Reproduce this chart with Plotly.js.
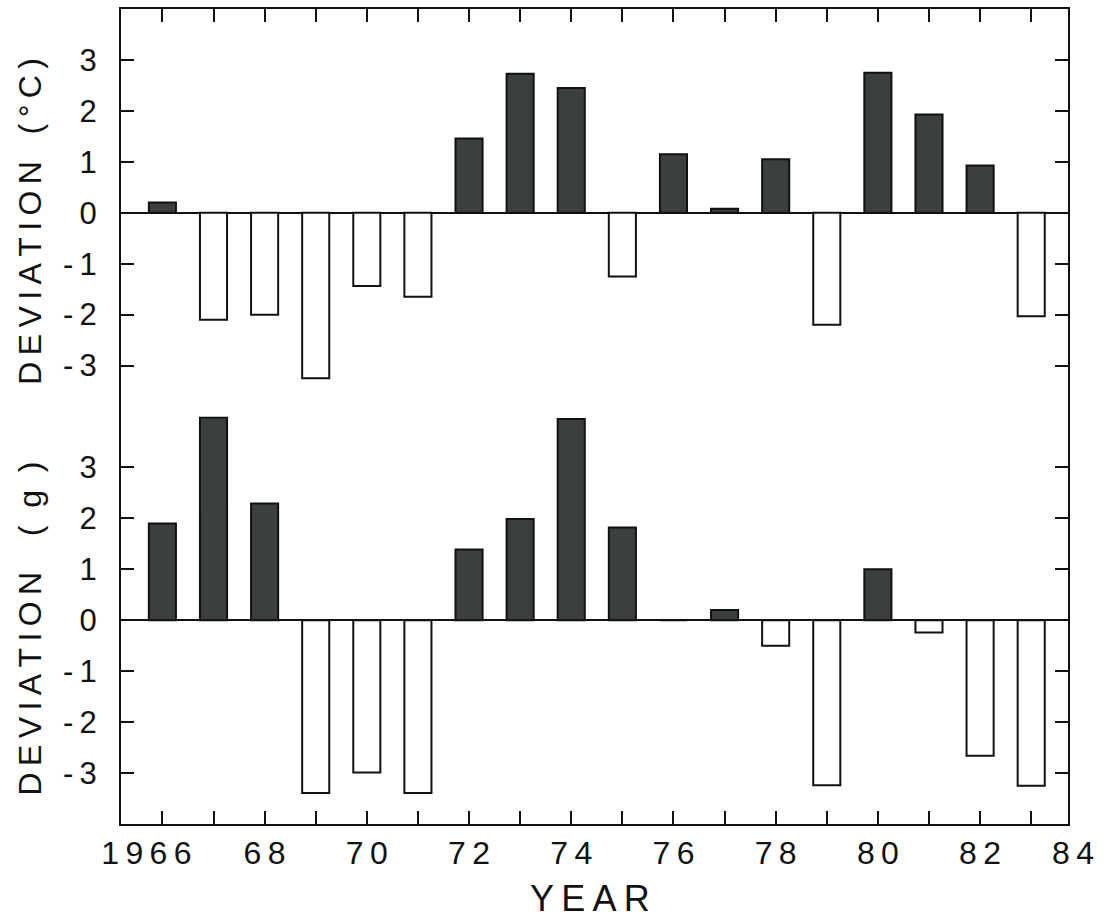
<!DOCTYPE html>
<html>
<head>
<meta charset="utf-8">
<script src="https://cdn.plot.ly/plotly-3.0.1.min.js"></script>
<style>
  html, body { margin: 0; padding: 0; background: #fff; }
  #chart { width: 1112px; height: 921px; }
</style>
</head>
<body>
<div id="chart"></div>
<script>
// ---- data ----
const years = [1966, 1967, 1968, 1969, 1970, 1971, 1972, 1973, 1974, 1975,
               1976, 1977, 1978, 1979, 1980, 1981, 1982, 1983];
const tempDeviation = [0.2, -2.1, -2.0, -3.25, -1.44, -1.65, 1.46, 2.73, 2.45, -1.25,
                       1.15, 0.08, 1.05, -2.2, 2.75, 1.93, 0.93, -2.03];
const massDeviation = [1.9, 3.98, 2.29, -3.39, -2.99, -3.39, 1.39, 1.99, 3.95, 1.82,
                       0, 0.2, -0.5, -3.24, 1.0, -0.24, -2.66, -3.25];
const xTickText = ['1\u20099\u20096\u20096\u2003', '', '6\u20098', '', '7\u20090', '', '7\u20092', '', '7\u20094', '',
                   '7\u20096', '', '7\u20098', '', '8\u20090', '', '8\u20092', ''];
const lastYearLabel = '8\u20094';
const topTickVals = [3, 2, 1, 0, -1, -2, -3];
const topTickText = ['3', '2', '1', '0', '-\u20091', '-\u20092', '-\u20093'];
const botTickVals = [4, 3, 2, 1, 0, -1, -2, -3];
const botTickText = ['', '3', '2', '1', '0', '-\u20091', '-\u20092', '-\u20093'];
const topTitle = 'D\u2009E\u2009V\u2009I\u2009A\u2009T\u2009I\u2009O\u2009N\u00a0\u00a0\u00a0(\u2009\u00b0\u2009C\u2009)';
const botTitle = 'D\u2009E\u2009V\u2009I\u2009A\u2009T\u2009I\u2009O\u2009N\u00a0\u00a0\u00a0\u00a0(\u00a0\u00a0g\u00a0\u00a0)';
const xTitle = 'Y\u2009E\u2009A\u2009R';

// ---- styling ----
const DARK = '#3b403f';
const FONT = 'Liberation Sans, Arial, sans-serif';
const fillFor = v => v >= 0 ? DARK : '#ffffff';

const topTrace = {
  type: 'bar', x: years, y: tempDeviation, xaxis: 'x2', yaxis: 'y',
  width: 0.53,
  marker: { color: tempDeviation.map(fillFor), line: { color: '#111', width: 2 } },
  hoverinfo: 'x+y', showlegend: false
};
const botTrace = {
  type: 'bar', x: years, y: massDeviation, xaxis: 'x', yaxis: 'y2',
  width: 0.53,
  marker: { color: massDeviation.map(fillFor), line: { color: '#111', width: 2 } },
  hoverinfo: 'x+y', showlegend: false
};

const xRange = [1965.19, 1983.72];
const commonY = {
  range: [-4, 4], showgrid: false, zeroline: true, zerolinecolor: '#111', zerolinewidth: 2,
  showline: true, linecolor: '#111', linewidth: 2, mirror: 'ticks',
  ticks: 'inside', ticklen: 13, tickwidth: 2, tickcolor: '#111',
  tickfont: { family: FONT, size: 31, color: '#111' }, ticklabelstandoff: 16,
  fixedrange: true
};

const layout = {
  width: 1112, height: 921,
  margin: { l: 121, r: 44, t: 9, b: 97 },
  paper_bgcolor: '#fff', plot_bgcolor: '#fff',
  bargap: 0,
  font: { family: FONT, color: '#111' },
  xaxis: {
    range: xRange, anchor: 'y2', side: 'bottom', domain: [0, 1],
    tickmode: 'array', tickvals: years, ticktext: xTickText,
    ticks: 'inside', ticklen: 13, tickwidth: 2, tickcolor: '#111',
    showline: true, linecolor: '#111', linewidth: 2, showgrid: false, zeroline: false,
    tickfont: { family: FONT, size: 32, color: '#111' }, ticklabelstandoff: 0,
    fixedrange: true
  },
  xaxis2: {
    range: xRange, matches: 'x', anchor: 'y', side: 'top', domain: [0, 1],
    tickmode: 'array', tickvals: years, showticklabels: false,
    ticks: 'inside', ticklen: 13, tickwidth: 2, tickcolor: '#111',
    showline: true, linecolor: '#111', linewidth: 2, showgrid: false, zeroline: false,
    fixedrange: true
  },
  yaxis: Object.assign({}, commonY, { domain: [0.5, 1], anchor: 'x2',
    tickmode: 'array', tickvals: topTickVals, ticktext: topTickText }),
  yaxis2: Object.assign({}, commonY, { domain: [0, 0.5], anchor: 'x',
    tickmode: 'array', tickvals: botTickVals, ticktext: botTickText }),
  annotations: [
    { text: lastYearLabel, xref: 'paper', x: 1, xshift: 5, xanchor: 'center',
      yref: 'paper', y: 0, yanchor: 'top', yshift: -9,
      showarrow: false, font: { family: FONT, size: 32, color: '#111' } },
    { text: xTitle, xref: 'paper', x: 0.495, yref: 'paper', y: -0.091, yanchor: 'middle', borderpad: 0,
      showarrow: false, font: { family: FONT, size: 36, color: '#111' } },
    { text: topTitle, xref: 'paper', x: -0.096, yref: 'paper', y: 0.739, textangle: -90,
      xanchor: 'center', yanchor: 'middle',
      showarrow: false, font: { family: FONT, size: 32, color: '#111' } },
    { text: botTitle, xref: 'paper', x: -0.096, yref: 'paper', y: 0.24, textangle: -90,
      xanchor: 'center', yanchor: 'middle',
      showarrow: false, font: { family: FONT, size: 32, color: '#111' } }
  ]
};

Plotly.newPlot('chart', [topTrace, botTrace], layout, { displayModeBar: false, staticPlot: true });
</script>
</body>
</html>
